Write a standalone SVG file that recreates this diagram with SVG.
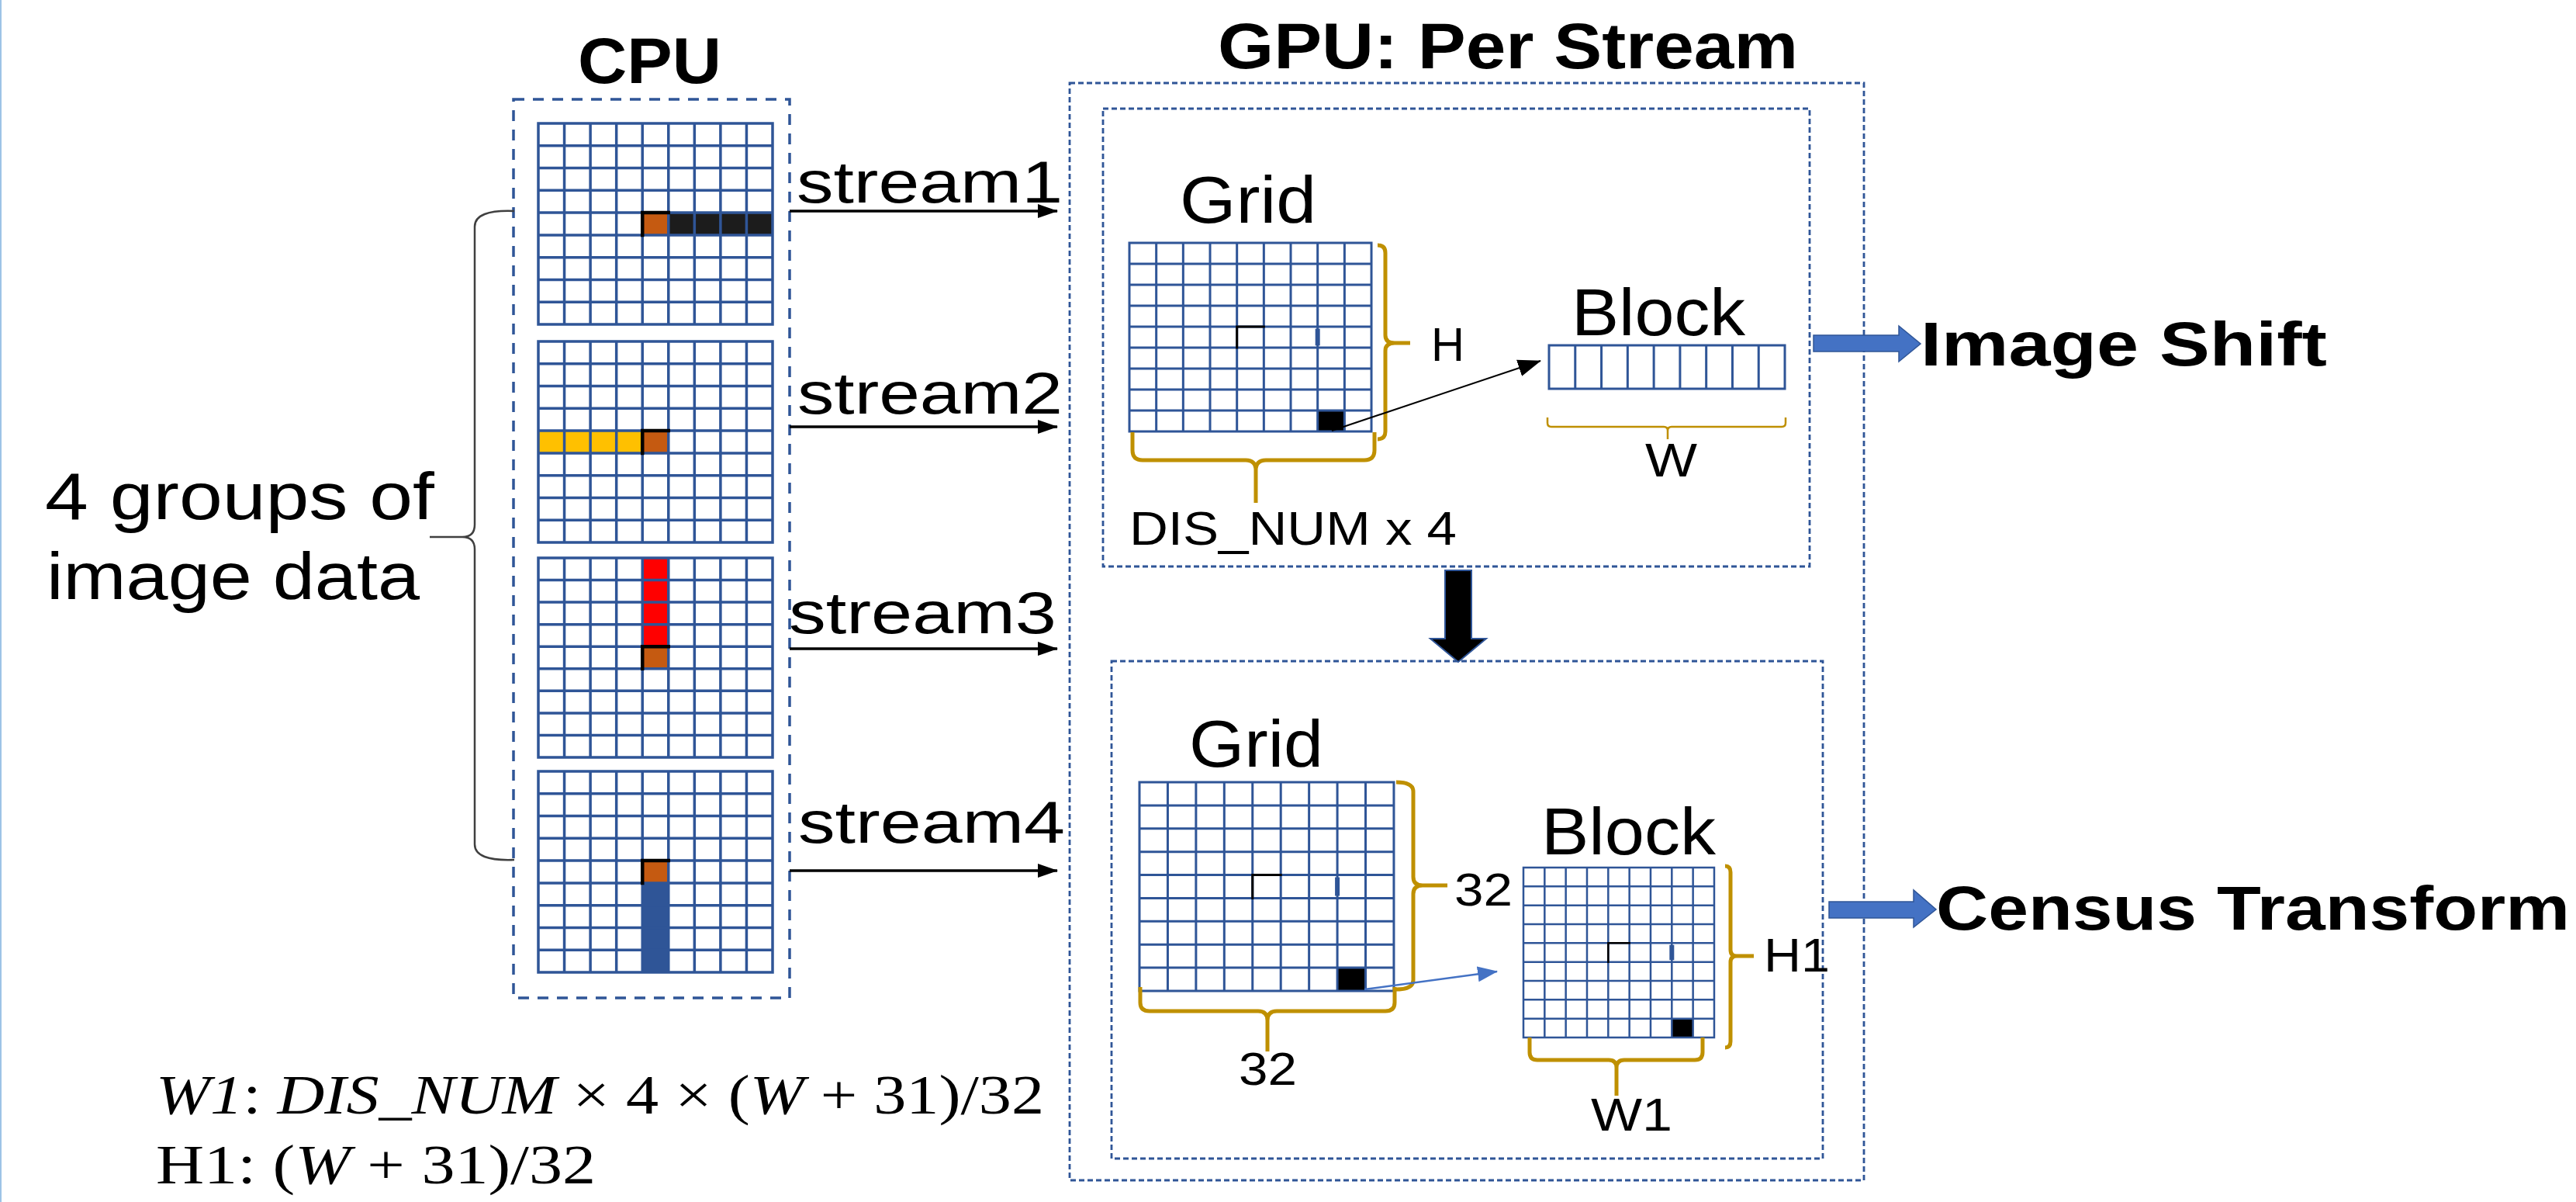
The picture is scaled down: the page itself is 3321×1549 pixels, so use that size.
<svg xmlns="http://www.w3.org/2000/svg" width="3321" height="1549" viewBox="0 0 3321 1549">
<style>
.t{font-family:"Liberation Sans",Arial,sans-serif;fill:#000}
.b{font-weight:bold}
.m{font-family:"Liberation Serif","Times New Roman",serif;fill:#000}
.i{font-style:italic}
.gl{stroke:#2F5597;stroke-linecap:square}
.cpubox{fill:none;stroke:#2F5597;stroke-width:3.5;stroke-dasharray:14 11}
.gpubox{fill:none;stroke:#2F5597;stroke-width:2.8;stroke-dasharray:7 4}
.gold{fill:none;stroke:#BF9000;stroke-width:5}
.goldt{fill:none;stroke:#BF9000;stroke-width:2.5}
.mk{fill:none;stroke:#000;vector-effect:non-scaling-stroke;stroke-linecap:square}
.tk{fill:none;stroke:#2F5597;stroke-width:6;vector-effect:non-scaling-stroke}
.conn{stroke:#000;stroke-width:3.5;fill:none}
.blk{fill:#4472C4;stroke:#2F5597;stroke-width:1.5}
</style>
<defs>
<path id="g9" fill="none" vector-effect="non-scaling-stroke" d="M0 0H9M0 1H9M0 2H9M0 3H9M0 4H9M0 5H9M0 6H9M0 7H9M0 8H9M0 9H9M0 0V9M1 0V9M2 0V9M3 0V9M4 0V9M5 0V9M6 0V9M7 0V9M8 0V9M9 0V9"/>
<path id="r9" fill="none" vector-effect="non-scaling-stroke" d="M0 0H9M0 1H9M0 0V1M1 0V1M2 0V1M3 0V1M4 0V1M5 0V1M6 0V1M7 0V1M8 0V1M9 0V1"/>
<marker id="ah" markerWidth="26" markerHeight="20" refX="25" refY="10" orient="auto" markerUnits="userSpaceOnUse"><path d="M0 1L26 10L0 19z" fill="#000"/></marker>
<marker id="ah2" markerWidth="30" markerHeight="24" refX="29" refY="12" orient="auto" markerUnits="userSpaceOnUse"><path d="M0 1L30 12L0 23z" fill="#000"/></marker>
<marker id="ah3" markerWidth="26" markerHeight="22" refX="25" refY="11" orient="auto" markerUnits="userSpaceOnUse"><path d="M0 1L26 11L0 21z" fill="#4472C4"/></marker>
</defs>
<rect width="3321" height="1549" fill="#fff"/>
<line x1="1" y1="0" x2="1" y2="1549" stroke="#9DC3E6" stroke-width="2"/>

<g id="cpu">
<text class="t b" x="745" y="107" font-size="84" textLength="185" lengthAdjust="spacingAndGlyphs">CPU</text>
<rect class="cpubox" x="662" y="128" width="356" height="1158"/>
<g transform="translate(694,159) scale(33.556,28.778)">
<rect x="4" y="4" width="1" height="1" fill="#C55A11"/>
<rect x="5" y="4" width="4" height="1" fill="#1C1C1C"/>
<use href="#g9" class="gl" stroke-width="3.5"/>
<path class="mk" stroke-width="4.5" d="M4 5V4H5"/>
</g>
<g transform="translate(694,440) scale(33.556,28.778)">
<rect x="0" y="4" width="4" height="1" fill="#FFC000"/>
<rect x="4" y="4" width="1" height="1" fill="#C55A11"/>
<use href="#g9" class="gl" stroke-width="3.5"/>
<path class="mk" stroke-width="4.5" d="M4 5V4H5"/>
</g>
<g transform="translate(694,719) scale(33.556,28.556)">
<rect x="4" y="0" width="1" height="4" fill="#FF0000"/>
<rect x="4" y="4" width="1" height="1" fill="#C55A11"/>
<use href="#g9" class="gl" stroke-width="3.5"/>
<path class="mk" stroke-width="4.5" d="M4 5V4H5"/>
</g>
<g transform="translate(694,994) scale(33.556,28.778)">
<rect x="4" y="4" width="1" height="1" fill="#C55A11"/>
<rect x="4" y="5" width="1" height="4" fill="#2F5597"/>
<use href="#g9" class="gl" stroke-width="3.5"/>
<path class="mk" stroke-width="4.5" d="M4 5V4H5"/>
</g>
</g>

<g id="groups-label">
<text class="t" x="58" y="669" font-size="85" textLength="502" lengthAdjust="spacingAndGlyphs">4 groups of</text>
<text class="t" x="60" y="772" font-size="85" textLength="481" lengthAdjust="spacingAndGlyphs">image data</text>
<path d="M663 272 Q612 270 612 292 V676 Q612 692 596 692 H554 M596 692 Q612 692 612 708 V1088 Q612 1110 663 1108" fill="none" stroke="#404040" stroke-width="2.5"/>
</g>

<g id="gpu">
<text class="t b" x="1570" y="88" font-size="84" textLength="748" lengthAdjust="spacingAndGlyphs">GPU: Per Stream</text>
<rect class="gpubox" x="1379" y="107" width="1024" height="1414"/>
</g>

<g id="image-shift-stage">
<rect class="gpubox" x="1422" y="140" width="911" height="590"/>
<text class="t" x="1521" y="287" font-size="85" textLength="176" lengthAdjust="spacingAndGlyphs">Grid</text>
<g transform="translate(1456,313) scale(34.67,27)">
<rect x="7" y="8" width="1" height="1" fill="#000"/>
<use href="#g9" class="gl" stroke-width="3"/>
<path class="mk" stroke-width="3" d="M4 5V4H5"/>
<path class="tk" stroke-width="5" d="M7 4.1V4.9"/>
</g>
<path class="gold" d="M1776 316 Q1786 316 1786 326 V432 Q1786 442 1798 442 H1818 M1798 442 Q1786 442 1786 452 V556 Q1786 566 1776 566"/>
<text class="t" x="1845" y="465" font-size="61" textLength="43" lengthAdjust="spacingAndGlyphs">H</text>
<path class="gold" d="M1460 557 V580 Q1460 593 1473 593 H1606 Q1619 593 1619 606 V648 M1619 606 Q1619 593 1632 593 H1759 Q1772 593 1772 580 V557"/>
<text class="t" x="1456" y="702" font-size="61" textLength="422" lengthAdjust="spacingAndGlyphs">DIS_NUM x 4</text>
<text class="t" x="2026" y="432" font-size="85" textLength="224" lengthAdjust="spacingAndGlyphs">Block</text>
<g transform="translate(1997,445) scale(33.78,56)">
<use href="#r9" class="gl" stroke-width="3"/>
</g>
<path class="goldt" d="M1995 538 V545 Q1995 550 2000 550 H2145 Q2150 550 2150 555 V566 M2150 555 Q2150 550 2155 550 H2297 Q2302 550 2302 545 V538"/>
<text class="t" x="2121" y="614" font-size="61" textLength="67" lengthAdjust="spacingAndGlyphs">W</text>
</g>

<g id="census-stage">
<rect class="gpubox" x="1433" y="852" width="917" height="641"/>
<text class="t" x="1533" y="988" font-size="85" textLength="173" lengthAdjust="spacingAndGlyphs">Grid</text>
<g transform="translate(1469,1008) scale(36.44,29.89)">
<rect x="7" y="8" width="1" height="1" fill="#000"/>
<use href="#g9" class="gl" stroke-width="3"/>
<path class="mk" stroke-width="3" d="M4 5V4H5"/>
<path class="tk" stroke-width="5" d="M7 4.1V4.9"/>
</g>
<path class="gold" d="M1800 1008 Q1822 1008 1822 1020 V1130 Q1822 1141 1834 1141 H1866 M1834 1141 Q1822 1141 1822 1152 V1263 Q1822 1275 1800 1275"/>
<text class="t" x="1875" y="1167" font-size="59" textLength="75" lengthAdjust="spacingAndGlyphs">32</text>
<path class="gold" d="M1470 1272 V1292 Q1470 1303 1482 1303 H1622 Q1634 1303 1634 1315 V1355 M1634 1315 Q1634 1303 1646 1303 H1786 Q1798 1303 1798 1292 V1272"/>
<text class="t" x="1597" y="1398" font-size="59" textLength="75" lengthAdjust="spacingAndGlyphs">32</text>
<text class="t" x="1987" y="1101" font-size="85" textLength="225" lengthAdjust="spacingAndGlyphs">Block</text>
<g transform="translate(1964,1118) scale(27.33,24.33)">
<rect x="7" y="8" width="1" height="1" fill="#000"/>
<use href="#g9" class="gl" stroke-width="2.5"/>
<path class="mk" stroke-width="2.5" d="M4 5V4H5"/>
<path class="tk" stroke-width="4" d="M7 4.1V4.9"/>
</g>
<path class="gold" d="M2224 1116 Q2231 1116 2231 1124 V1224 Q2231 1232 2239 1232 H2261 M2239 1232 Q2231 1232 2231 1240 V1342 Q2231 1350 2224 1350"/>
<text class="t" x="2274" y="1252" font-size="62" textLength="85" lengthAdjust="spacingAndGlyphs">H1</text>
<path class="gold" d="M1972 1337 V1356 Q1972 1366 1982 1366 H2074 Q2084 1366 2084 1376 V1412 M2084 1376 Q2084 1366 2094 1366 H2185 Q2195 1366 2195 1356 V1337"/>
<text class="t" x="2051" y="1457" font-size="60" textLength="105" lengthAdjust="spacingAndGlyphs">W1</text>
</g>

<g id="image-shift-out">
<text class="t b" x="2476" y="471" font-size="80" textLength="524" lengthAdjust="spacingAndGlyphs">Image Shift</text>
</g>
<g id="census-out">
<text class="t b" x="2496" y="1198" font-size="80" textLength="817" lengthAdjust="spacingAndGlyphs">Census Transform</text>
</g>

<g id="formula">
<text class="m" x="201" y="1435" font-size="71" textLength="1145" lengthAdjust="spacingAndGlyphs"><tspan class="i">W1</tspan>: <tspan class="i">DIS_NUM</tspan> × 4 × (<tspan class="i">W</tspan> + 31)/32</text>
<text class="m" x="201" y="1525" font-size="71" textLength="567" lengthAdjust="spacingAndGlyphs">H1: (<tspan class="i">W</tspan> + 31)/32</text>
</g>

<g id="connectors">
<text class="t" x="1027" y="261" font-size="76" textLength="343" lengthAdjust="spacingAndGlyphs">stream1</text>
<text class="t" x="1028" y="533" font-size="76" textLength="342" lengthAdjust="spacingAndGlyphs">stream2</text>
<text class="t" x="1017" y="816" font-size="76" textLength="345" lengthAdjust="spacingAndGlyphs">stream3</text>
<text class="t" x="1029" y="1086" font-size="76" textLength="344" lengthAdjust="spacingAndGlyphs">stream4</text>
<line class="conn" x1="1018" y1="272" x2="1363" y2="272" marker-end="url(#ah)"/>
<line class="conn" x1="1018" y1="550" x2="1363" y2="550" marker-end="url(#ah)"/>
<line class="conn" x1="1018" y1="836" x2="1363" y2="836" marker-end="url(#ah)"/>
<line class="conn" x1="1018" y1="1122" x2="1363" y2="1122" marker-end="url(#ah)"/>
<line x1="1717" y1="555" x2="1986" y2="465" stroke="#000" stroke-width="2" marker-end="url(#ah2)"/>
<line x1="1759" y1="1275" x2="1930" y2="1252" stroke="#4472C4" stroke-width="2.5" marker-end="url(#ah3)"/>
<polygon points="1863,735 1897,735 1897,823 1916,823 1880,853 1844,823 1863,823" fill="#000" stroke="#2F5597" stroke-width="2"/>
<polygon class="blk" points="2338,432 2448,432 2448,420 2476,443 2448,466 2448,453 2338,453"/>
<polygon class="blk" points="2358,1162 2467,1162 2467,1147 2496,1172 2467,1195 2467,1183 2358,1183"/>
</g>
</svg>
